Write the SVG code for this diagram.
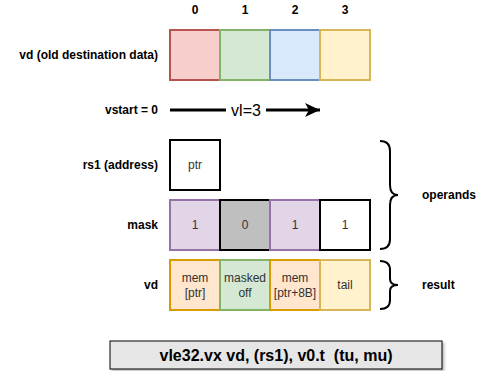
<svg xmlns="http://www.w3.org/2000/svg" width="501" height="371" viewBox="0 0 501 371">
<defs>
<style>
.lbl{font-family:"Liberation Sans",Arial,sans-serif;font-size:12px;font-weight:bold;fill:#000}
.cell{stroke-width:2}
.ct{font-family:"Liberation Sans",Arial,sans-serif;font-size:12px;fill:#333;text-anchor:middle}
.brace{fill:none;stroke:#000;stroke-width:2}
</style>
<marker id="ah" markerWidth="15" markerHeight="14" refX="15" refY="7" orient="auto" markerUnits="userSpaceOnUse">
<path d="M0,0 L15,7 L0,14 L4,7 Z" fill="#000"/>
</marker>
<filter id="sh" x="-5%" y="-20%" width="115%" height="150%"><feDropShadow dx="2" dy="2" stdDeviation="1" flood-color="#000" flood-opacity="0.25"/></filter>
</defs>
<rect width="501" height="371" fill="#fff"/>
<g id="indices" class="lbl" text-anchor="middle">
<text x="195" y="14">0</text><text x="245" y="14">1</text><text x="295" y="14">2</text><text x="345" y="14">3</text>
</g>
<g id="labels" class="lbl" text-anchor="end">
<text x="158" y="59">vd (old destination data)</text>
<text x="158" y="114">vstart = 0</text>
<text x="158" y="169">rs1 (address)</text>
<text x="158" y="229">mask</text>
<text x="158" y="289">vd</text>
</g>
<g id="vd-old">
<rect class="cell" x="170" y="30" width="50" height="50" fill="#f8cecc" stroke="#b85450"/>
<rect class="cell" x="220" y="30" width="50" height="50" fill="#d5e8d4" stroke="#82b366"/>
<rect class="cell" x="270" y="30" width="50" height="50" fill="#dae8fc" stroke="#6c8ebf"/>
<rect class="cell" x="320" y="30" width="50" height="50" fill="#fff2cc" stroke="#d6b656"/>
</g>
<g id="connectors">
<line x1="170" y1="110" x2="226" y2="110" stroke="#000" stroke-width="3"/>
<line x1="266" y1="110" x2="320" y2="110" stroke="#000" stroke-width="3" marker-end="url(#ah)"/>
<text x="246" y="116" font-family="&quot;Liberation Sans&quot;,Arial,sans-serif" font-size="16" text-anchor="middle" fill="#000">vl=3</text>
</g>
<g id="rs1">
<rect class="cell" x="170" y="140" width="50" height="50" fill="#fff" stroke="#000"/>
<text class="ct" x="195" y="169">ptr</text>
</g>
<g id="mask">
<rect class="cell" x="170" y="200" width="50" height="50" fill="#e1d5e7" stroke="#9673a6"/>
<rect class="cell" x="220" y="200" width="50" height="50" fill="#bfbfbf" stroke="#000"/>
<rect class="cell" x="270" y="200" width="50" height="50" fill="#e1d5e7" stroke="#9673a6"/>
<rect class="cell" x="320" y="200" width="50" height="50" fill="#fff" stroke="#000"/>
<text class="ct" x="195" y="229">1</text><text class="ct" x="245" y="229">0</text><text class="ct" x="295" y="229">1</text><text class="ct" x="345" y="229">1</text>
</g>
<g id="vd-result">
<rect class="cell" x="170" y="260" width="50" height="50" fill="#ffe6cc" stroke="#d79b00"/>
<rect class="cell" x="220" y="260" width="50" height="50" fill="#d5e8d4" stroke="#82b366"/>
<rect class="cell" x="270" y="260" width="50" height="50" fill="#ffe6cc" stroke="#d79b00"/>
<rect class="cell" x="320" y="260" width="50" height="50" fill="#fff2cc" stroke="#d6b656"/>
<text class="ct" x="195" y="282">mem</text><text class="ct" x="195" y="297">[ptr]</text>
<text class="ct" x="245" y="282">masked</text><text class="ct" x="245" y="297">off</text>
<text class="ct" x="295" y="282">mem</text><text class="ct" x="295" y="297">[ptr+8B]</text>
<text class="ct" x="345" y="289">tail</text>
</g>
<g id="operands">
<path class="brace" d="M380,141 Q390,141 390,151 L390,185 Q390,195 398,195 Q390,195 390,205 L390,239 Q390,249 380,249"/>
<text class="lbl" x="422" y="199">operands</text>
</g>
<g id="result">
<path class="brace" d="M380,261 Q390,261 390,270 L390,279 Q390,285 398,285 Q390,285 390,291 L390,300 Q390,309 380,309"/>
<text class="lbl" x="422" y="289">result</text>
</g>
<g id="instruction">
<rect x="110" y="341" width="332" height="28" fill="#e6e6e6" stroke="#000" filter="url(#sh)"/>
<text x="276" y="361" xml:space="preserve" style="white-space:pre" font-family="&quot;Liberation Sans&quot;,Arial,sans-serif" font-size="16" font-weight="bold" text-anchor="middle" fill="#000">vle32.vx vd, (rs1), v0.t  (tu, mu)</text>
</g>
</svg>
